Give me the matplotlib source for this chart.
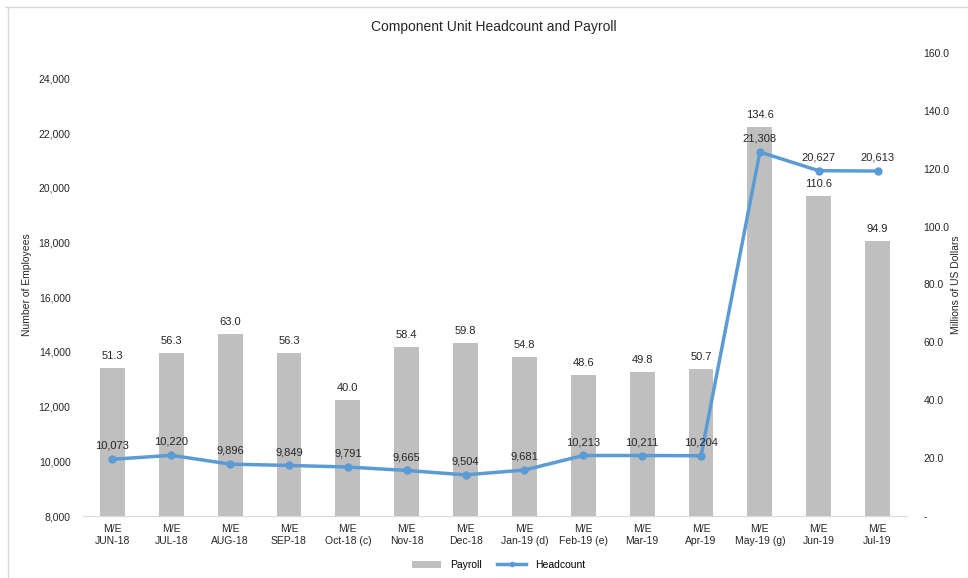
import numpy as np
import matplotlib
matplotlib.use("Agg")
import matplotlib.pyplot as plt
from matplotlib.lines import Line2D
from matplotlib.patches import Patch

plt.rcParams['font.family'] = ['Liberation Sans Narrow', 'Liberation Sans', 'DejaVu Sans']

months = ['M/E\nJUN-18', 'M/E\nJUL-18', 'M/E\nAUG-18', 'M/E\nSEP-18', 'M/E\nOct-18 (c)',
          'M/E\nNov-18', 'M/E\nDec-18', 'M/E\nJan-19 (d)', 'M/E\nFeb-19 (e)', 'M/E\nMar-19',
          'M/E\nApr-19', 'M/E\nMay-19 (g)', 'M/E\nJun-19', 'M/E\nJul-19']
payroll = [51.3, 56.3, 63.0, 56.3, 40.0, 58.4, 59.8, 54.8, 48.6, 49.8, 50.7, 134.6, 110.6, 94.9]
headcount = [10073, 10220, 9896, 9849, 9791, 9665, 9504, 9681, 10213, 10211, 10204, 21308, 20627, 20613]

left_ticks = list(range(8000, 24001, 2000))
right_ticks = [0, 20, 40, 60, 80, 100, 120, 140, 160]

bar_color = '#BFBFBF'
line_color = '#5B9BD5'
text_color = '#262626'

fig = plt.figure(figsize=(9.68, 5.78), dpi=100)
ax = fig.add_axes([83/968, 1 - 516/578, (907 - 83)/968, (516 - 53)/578])
ax2 = ax.twinx()

x = np.arange(len(months))

# payroll bars on right axis
ax2.bar(x, payroll, width=0.42, color=bar_color, zorder=2)
for xi, v in zip(x, payroll):
    ax2.annotate(f'{v:.1f}', (xi, v), xytext=(0, 5), textcoords='offset points',
                 ha='center', va='bottom', fontsize=8, color=text_color)
ax2.set_ylim(0, 160)
ax2.set_yticks(right_ticks)
ax2.set_yticklabels(['-'] + [f'{t:.1f}' for t in right_ticks[1:]])
ax2.set_ylabel('Millions of US Dollars', fontsize=7.5, color=text_color)
ax2.yaxis.set_label_coords((951 - 83) / 824, 0.5)

# headcount line on left axis, drawn on top
ax.set_zorder(ax2.get_zorder() + 1)
ax.patch.set_visible(False)
ax.plot(x, headcount, color=line_color, lw=2.5, marker='o', ms=5, zorder=3)
for xi, v in zip(x, headcount):
    ax.annotate(f'{v:,}', (xi, v), xytext=(0, 6), textcoords='offset points',
                ha='center', va='bottom', fontsize=8, color=text_color)
ax.set_ylim(8000, 24930)
ax.set_yticks(left_ticks)
ax.set_yticklabels([f'{t:,}' for t in left_ticks])
ax.set_ylabel('Number of Employees', fontsize=7.5, color=text_color)
ax.yaxis.set_label_coords((32 - 83) / 824, 0.5)

ax.set_xlim(-0.5, len(months) - 0.5)
ax.set_xticks(x)
ax.set_xticklabels(months, fontsize=7.5, color=text_color)

for a in (ax, ax2):
    for s in a.spines.values():
        s.set_visible(False)
    a.tick_params(axis='both', length=0, labelsize=7.5, labelcolor=text_color)
ax.tick_params(axis='y', pad=9)
ax2.tick_params(axis='y', pad=12)
ax.tick_params(axis='x', pad=6)
ax.spines['bottom'].set_visible(True)
ax.spines['bottom'].set_color('#D9D9D9')

fig.text(0.51, 1 - 27/578, 'Component Unit Headcount and Payroll', ha='center', va='center',
         fontsize=10, color=text_color)

handles = [Patch(facecolor=bar_color, label='Payroll'),
           Line2D([0], [0], color=line_color, lw=2.5, marker='o', ms=3, label='Headcount')]
fig.legend(handles=handles, loc='center', bbox_to_anchor=(0.515, 1 - 565/578), ncol=2,
           frameon=False, fontsize=7.5, handlelength=2.8, columnspacing=1.5)

# chart border (left and top)
fig.add_artist(Line2D([8/968, 8/968], [0, 1 - 7/578], color='#D9D9D9', lw=1))
fig.add_artist(Line2D([5/968, 1], [1 - 7/578, 1 - 7/578], color='#D9D9D9', lw=1))

fig.savefig('out.png', dpi=100)
